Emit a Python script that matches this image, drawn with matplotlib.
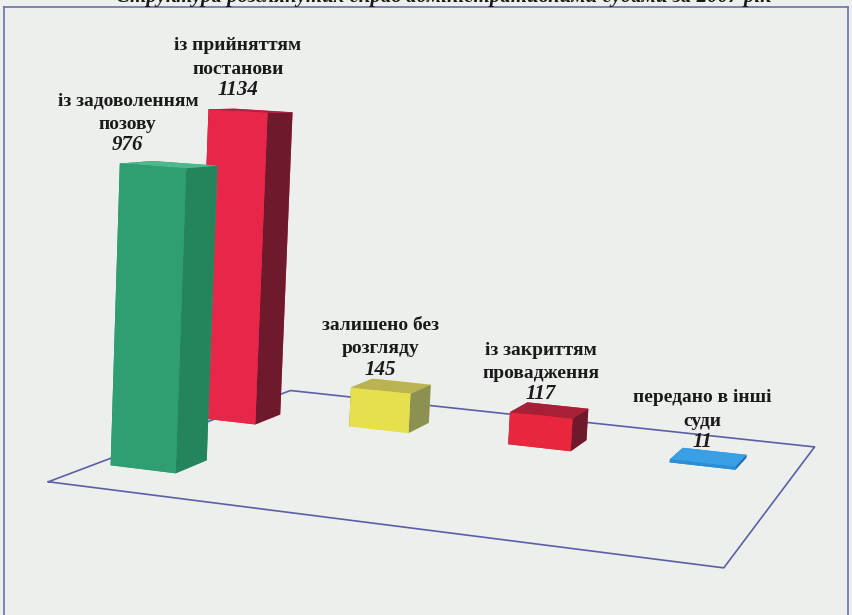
import numpy as np
import matplotlib.pyplot as plt
from matplotlib.lines import Line2D
from mpl_toolkits.mplot3d import proj3d

# дані
categories = ["із задоволенням\nпозову", "із прийняттям\nпостанови", "залишено без\nрозгляду",
              "із закриттям\nпровадження", "передано в інші\nсуди"]
values = [976, 1134, 145, 117, 11]
title = "Структура розглянутих справ адміністративними судами за 2007 рік"

# кольори граней: перед, верх, бік
front_colors = ["#2f9f72", "#e8264a", "#e6e04e", "#e8263e", "#2b8fd6"]
top_colors = ["#4cb88c", "#b51f43", "#b9b352", "#a81f38", "#3aa0e6"]
side_colors = ["#24845c", "#6e1a2c", "#8c9052", "#6e1a2a", "#1f6fb0"]

# розташування на підлозі
xpos = [0.12, -0.15, 1.13, 2.58, 3.98]
depth = [0.16, 0.62, 0.7, 0.7, 0.7]
label_dx = [-18, 0, 0, 0, 0]
bw, bd = 0.55, 0.12

plt.rcParams['font.family'] = ['Liberation Serif', 'DejaVu Serif']
bg = "#edefed"

fig = plt.figure(figsize=(8.52, 6.15), dpi=100, facecolor=bg)
ax = fig.add_axes([0.049, 0.0185, 1, 1], projection='3d', computed_zorder=False)
ax.patch.set_alpha(0)
zoom = 1.45
ax.set_proj_type('persp', focal_length=0.4 * zoom)
ax.view_init(elev=6.7, azim=-73, roll=-3)
ax.set_axis_off()

nx = len(values)
ax.set_xlim(0, 5)
ax.set_ylim(0, 1)
ax.set_zlim(0, 1200)
ax.set_box_aspect((5, 4.56, 2.85), zoom=zoom)

# підлога
fl = ax.plot([0, 5, 5, 0, 0], [0, 0, 1, 1, 0], [0, 0, 0, 0, 0], color="#5a60a8", lw=1.2, zorder=1)
for l in fl:
    l.set_clip_on(False)

# стовпчики (спочатку дальні)
order = np.argsort(depth, kind='stable')[::-1]
for k, i in enumerate(order):
    cols = [front_colors[i], top_colors[i], front_colors[i], front_colors[i],
            side_colors[i], side_colors[i]]
    pc = ax.bar3d(xpos[i], depth[i], 0, bw, bd, values[i], color=cols, shade=False, zorder=2 + k)
    pc.set_clip_on(False)

fig.canvas.draw()
M = ax.get_proj()
for i in range(nx):
    px, py, _ = proj3d.proj_transform(xpos[i] + bw / 2, depth[i], values[i], M)
    ax.annotate(categories[i], (px, py), xycoords='data', xytext=(label_dx[i], 24),
                textcoords='offset points', ha='center', va='bottom', fontsize=14,
                fontweight='bold', color="#1a1a1a", linespacing=1.5, zorder=20,
                annotation_clip=False)
    ax.annotate(str(values[i]), (px, py), xycoords='data', xytext=(label_dx[i], 8),
                textcoords='offset points', ha='center', va='bottom', fontsize=15,
                fontweight='bold', style='italic', color="#1a1a1a", zorder=21,
                annotation_clip=False)

# рамка
fc = "#6a70a8"
fig.add_artist(Line2D([0.005, 0.995], [0.989, 0.989], color=fc, lw=1.2))
fig.add_artist(Line2D([0.005, 0.005], [0.0, 0.989], color=fc, lw=1.2))
fig.add_artist(Line2D([0.995, 0.995], [0.0, 0.989], color=fc, lw=1.2))
fig.text(0.52, 1.005, title, ha='center', va='center', fontsize=15,
         fontweight='bold', style='italic', color="#1a1a1a")

fig.savefig("out.png", dpi=100, facecolor=bg)
